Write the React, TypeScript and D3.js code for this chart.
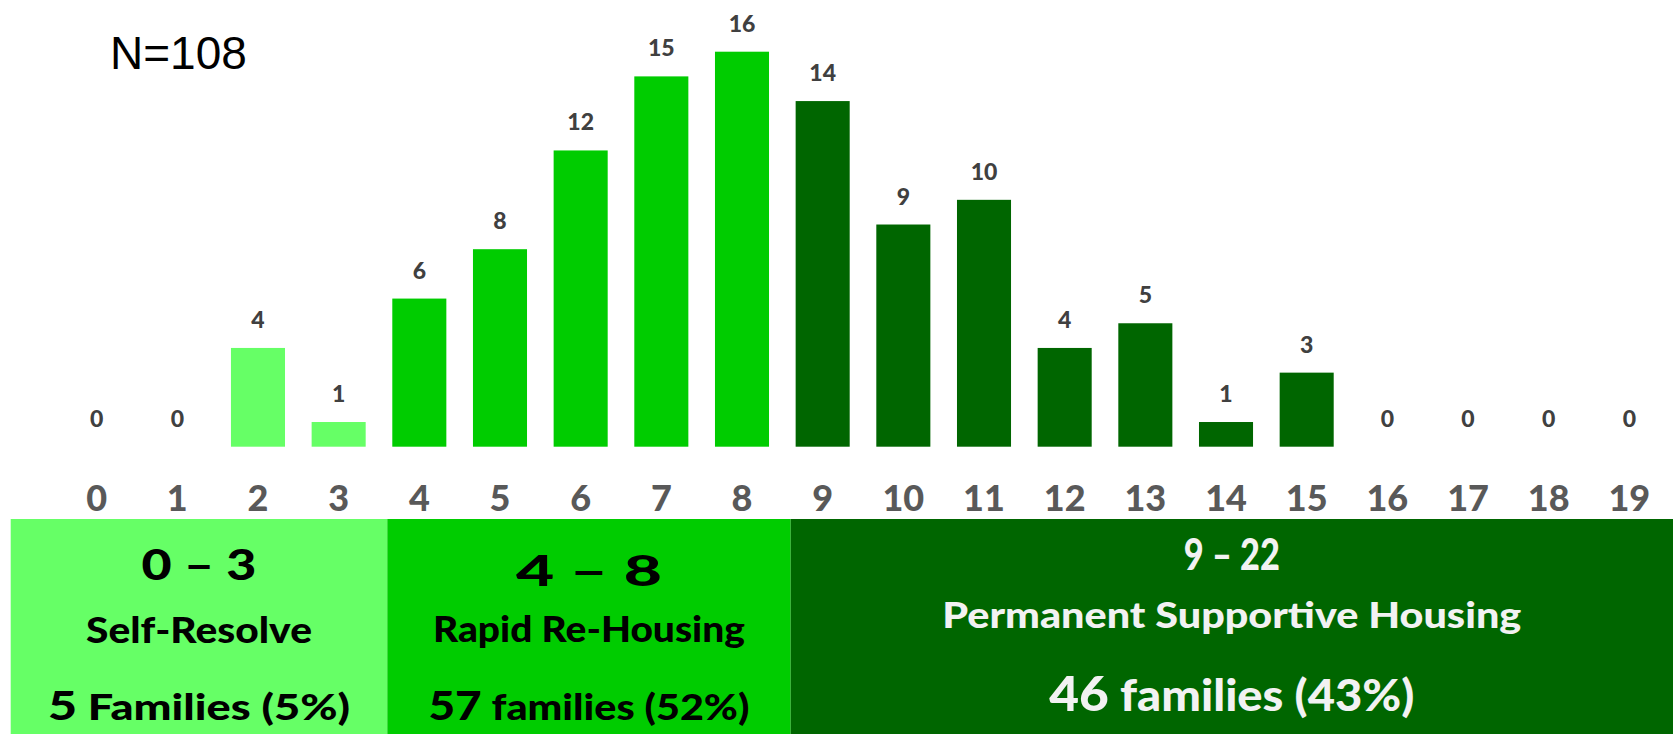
import { useEffect } from 'react'
import * as d3 from 'd3'

// number of barriers -> families
const categories = d3.range(0, 20)
const families = [0, 0, 4, 1, 6, 8, 12, 15, 16, 14, 9, 10, 4, 5, 1, 3, 0, 0, 0, 0]

// group bands under the axis
const groupStart = [0, 4, 9]
const groupRange = ['0 – 3', '4 – 8', '9 – 22']
const groupName = ['Self-Resolve', 'Rapid Re-Housing', 'Permanent Supportive Housing']
const groupCount = ['5', '57', '46']
const groupSummary = [' Families (5%)', ' families (52%)', ' families (43%)']
const groupColor = ['#66FF66', '#00CC00', '#006600']
const groupInk = ['#000000', '#000000', '#F2F2F2']

const totalLabel = 'N=108'

const W = 1673
const H = 734
const FONT = 'Lato, "Open Sans", sans-serif'

// per-group text layout: baselines and widths [range, name, summary]
const textLayout = [
  { y: [580, 643, 720], w: [115, 226, 302], size: [42, 36, 36] },
  { y: [586, 642, 720], w: [146, 312, 321], size: [42, 36, 36] },
  { y: [570, 628, 711], w: [96, 579, 365], size: [44, 36, 44] },
]

function groupOf(i: number) {
  let g = 0
  groupStart.forEach((s, k) => { if (i >= s) g = k })
  return g
}

export default function App() {
  useEffect(() => {
    document.body.style.margin = '0'
  }, [])

  const x = d3.scaleBand<number>()
    .domain(categories)
    .range([43, 1683])
    .padding(0.33)
  const y = d3.scaleLinear().domain([0, 16]).range([446.7, 51.7])
  const bw = x.bandwidth()

  const boxTop = 519
  const edges = groupStart.map((s, k) => (k === 0 ? 10.7 : x(s)! - 5))
  edges.push(W)

  return (
    <svg width={W} height={H} style={{ display: 'block' }}>
      <rect width={W} height={H} fill="#fff" />
      <text x={110} y={69} fontFamily='"Liberation Sans", Arial, sans-serif' fontSize={46} fill="#000">
        {totalLabel}
      </text>

      {/* bars */}
      {categories.map((c, i) => (
        <rect
          key={c}
          x={x(c)}
          y={y(families[i])}
          width={bw}
          height={y(0) - y(families[i])}
          fill={groupColor[groupOf(i)]}
        />
      ))}

      {/* value labels */}
      {categories.map((c, i) => (
        <text
          key={'v' + c}
          x={x(c)! + bw / 2}
          y={y(families[i]) - 20}
          textAnchor="middle"
          fontFamily={FONT}
          fontWeight={900}
          fontSize={23}
          fill="#404040"
        >
          {families[i]}
        </text>
      ))}

      {/* x ticks */}
      {categories.map((c) => (
        <text
          key={'t' + c}
          x={x(c)! + bw / 2}
          y={511}
          textAnchor="middle"
          fontFamily={FONT}
          fontWeight={900}
          fontSize={36}
          fill="#595959"
        >
          {c}
        </text>
      ))}

      {/* group boxes */}
      {groupStart.map((s, k) => {
        const x0 = edges[k]
        const x1 = edges[k + 1]
        const cx = (x0 + x1) / 2
        const L = textLayout[k]
        const common = {
          x: cx,
          textAnchor: 'middle' as const,
          fontFamily: FONT,
          fontWeight: 900,
          fill: groupInk[k],
          lengthAdjust: 'spacingAndGlyphs',
        }
        return (
          <g key={'g' + s}>
            <rect x={x0} y={boxTop} width={x1 - x0} height={H - boxTop} fill={groupColor[k]} />
            <text {...common} y={L.y[0]} fontSize={L.size[0]} textLength={L.w[0]}>
              {groupRange[k]}
            </text>
            <text {...common} y={L.y[1]} fontSize={L.size[1]} textLength={L.w[1]}>
              {groupName[k]}
            </text>
            <text {...common} y={L.y[2]} fontSize={L.size[2]} textLength={L.w[2]}>
              <tspan fontSize={L.size[2] + 4}>{groupCount[k]}</tspan>
              <tspan>{groupSummary[k]}</tspan>
            </text>
          </g>
        )
      })}
    </svg>
  )
}
